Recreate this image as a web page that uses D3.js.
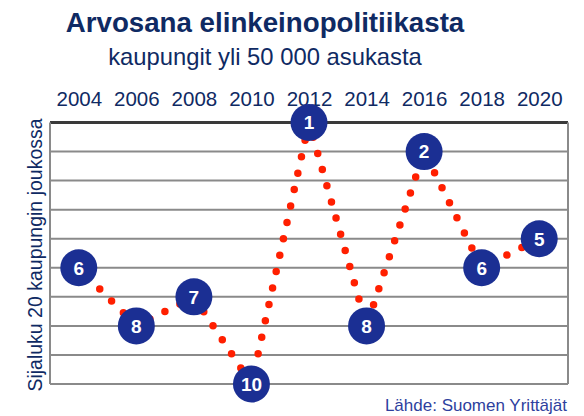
<!DOCTYPE html>
<html>
<head>
<meta charset="utf-8">
<script src="https://cdn.jsdelivr.net/npm/d3@7"></script>
<style>
  body { margin: 0; background: #fff; }
  text { font-family: "Liberation Sans", Arial, sans-serif; }
</style>
</head>
<body>
<div id="chart"></div>
<script>
// data
let years = [2004, 2006, 2008, 2010, 2012, 2014, 2016, 2018, 2020];
let ranks = [6, 8, 7, 10, 1, 8, 2, 6, 5];
let tickYears = [2004, 2006, 2008, 2010, 2012, 2014, 2016, 2018, 2020];
let gridRanks = [1, 2, 3, 4, 5, 6, 7, 8, 9, 10];

let width = 584, height = 416;
let navy = '#0f2a63', circleFill = '#1b2f93', dotColor = '#ff1f00';

let svg = d3.select('#chart').append('svg')
    .attr('width', width)
    .attr('height', height);

// titles
svg.append('text')
    .attr('x', 265).attr('y', 32)
    .attr('text-anchor', 'middle')
    .attr('font-size', 27.7).attr('font-weight', 'bold')
    .attr('fill', navy)
    .text('Arvosana elinkeinopolitiikasta');

svg.append('text')
    .attr('x', 265).attr('y', 65)
    .attr('text-anchor', 'middle')
    .attr('font-size', 23.8)
    .attr('fill', navy)
    .text('kaupungit yli 50 000 asukasta');

let x = d3.scaleLinear().domain([2003, 2021]).range([50, 568]);
let y = d3.scaleLinear().domain([1, 10]).range([122.5, 384]);

// gridlines
svg.append('g').selectAll('line')
    .data(gridRanks)
    .enter()
    .append('line')
    .attr('x1', x(2003)).attr('x2', x(2021))
    .attr('y1', d => y(d)).attr('y2', d => y(d))
    .attr('stroke', d => d == 1 ? '#3a3a3a' : '#8a8a8a')
    .attr('stroke-width', d => d == 1 ? 3 : 2);

// side borders
svg.append('g').selectAll('line')
    .data([2003, 2021])
    .enter()
    .append('line')
    .attr('x1', d => x(d)).attr('x2', d => x(d))
    .attr('y1', y(1)).attr('y2', y(10))
    .attr('stroke', '#8a8a8a')
    .attr('stroke-width', 2);

// top axis
let xAxis = d3.axisTop(x).tickValues(tickYears).tickFormat(d3.format('d')).tickSize(0).tickPadding(0);
let ax = svg.append('g')
    .attr('transform', 'translate(0,106)')
    .call(xAxis);
ax.select('.domain').remove();
ax.selectAll('text')
    .attr('font-size', 20.5)
    .attr('fill', navy)
    .attr('font-family', '"Liberation Sans", Arial, sans-serif');

// y label
svg.append('text')
    .attr('transform', 'translate(42,255) rotate(-90)')
    .attr('text-anchor', 'middle')
    .attr('font-size', 19.5)
    .attr('fill', navy)
    .text('Sijaluku 20 kaupungin joukossa');

// dotted line
let line = d3.line()
    .x((d, i) => x(years[i]))
    .y(d => y(d));

svg.append('path')
    .datum(ranks)
    .attr('d', line)
    .attr('fill', 'none')
    .attr('stroke', dotColor)
    .attr('stroke-width', 7.5)
    .attr('stroke-linecap', 'round')
    .attr('stroke-dasharray', '0 16.8')
    .attr('stroke-dashoffset', -13);

// rank circles
let marks = svg.append('g').selectAll('g')
    .data(ranks)
    .enter()
    .append('g')
    .attr('transform', (d, i) => 'translate(' + x(years[i]) + ',' + y(d) + ')');

marks.append('circle')
    .attr('r', 18.5)
    .attr('fill', circleFill);

marks.append('text')
    .attr('text-anchor', 'middle')
    .attr('dy', '0.36em')
    .attr('font-size', 19)
    .attr('font-weight', 'bold')
    .attr('fill', '#fff')
    .text(d => d);

// source
svg.append('text')
    .attr('x', 567).attr('y', 411)
    .attr('text-anchor', 'end')
    .attr('font-size', 17)
    .attr('fill', '#2e3f9e')
    .text('Lähde: Suomen Yrittäjät');
</script>
</body>
</html>
